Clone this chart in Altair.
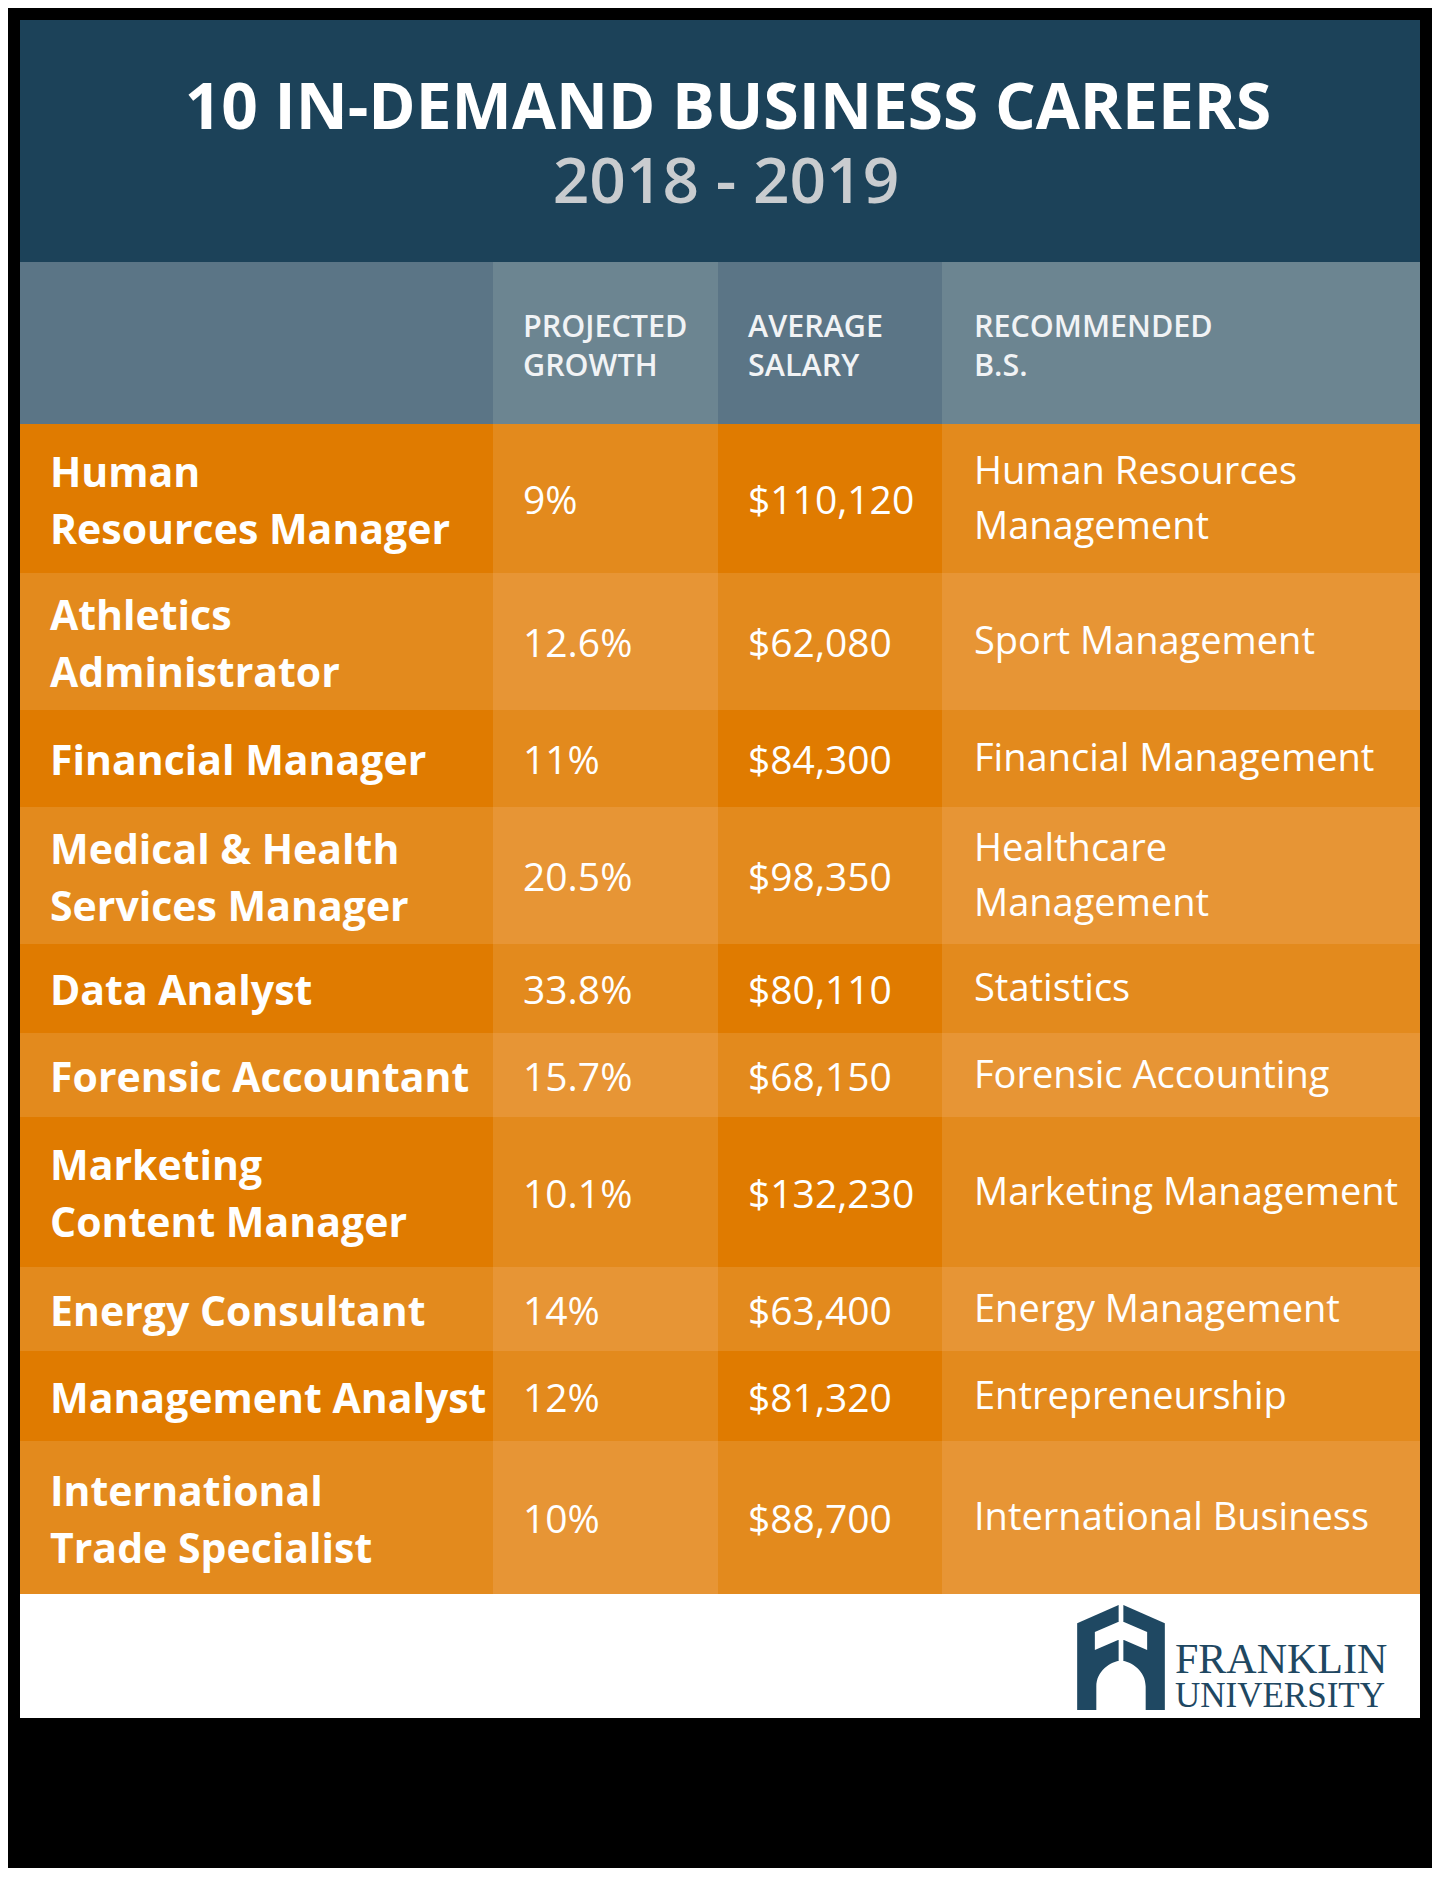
import altair as alt
import pandas as pd

# ---------------- data ----------------
title = "10 IN-DEMAND BUSINESS CAREERS"
subtitle = "2018 - 2019"
col_headers = ["", "PROJECTED\nGROWTH", "AVERAGE\nSALARY", "RECOMMENDED\nB.S."]
careers = [
    "Human\nResources Manager",
    "Athletics\nAdministrator",
    "Financial Manager",
    "Medical & Health\nServices Manager",
    "Data Analyst",
    "Forensic Accountant",
    "Marketing\nContent Manager",
    "Energy Consultant",
    "Management Analyst",
    "International\nTrade Specialist",
]
growth = ["9%", "12.6%", "11%", "20.5%", "33.8%", "15.7%", "10.1%", "14%", "12%", "10%"]
salary = ["$110,120", "$62,080", "$84,300", "$98,350", "$80,110",
          "$68,150", "$132,230", "$63,400", "$81,320", "$88,700"]
degree = [
    "Human Resources\nManagement",
    "Sport Management",
    "Financial Management",
    "Healthcare\nManagement",
    "Statistics",
    "Forensic Accounting",
    "Marketing Management",
    "Energy Management",
    "Entrepreneurship",
    "International Business",
]
brand = ["FRANKLIN", "UNIVERSITY"]

# ---------------- layout (chart pixel units) ----------------
W, H = 1400, 1698
HEADER_BOTTOM = 242
ROW_EDGES = [404, 553, 690, 787, 924, 1013, 1097, 1247, 1331, 1421, 1574]
COL_EDGES = [0, 473, 698, 922, 1400]
TEXT_X = [30, 503, 728, 954]

NAVY = "#1c4259"
HEAD_COLS = ["#5b7586", "#6c8591", "#5b7586", "#6c8591"]
ORANGES = ["#e07b00", "#e38a1d", "#e79535"]
LOGO = "#1f4862"

# background blocks
blocks = [dict(x=0, x2=W, y=0, y2=HEADER_BOTTOM, color=NAVY),
          dict(x=0, x2=W, y=ROW_EDGES[-1], y2=H, color="#ffffff")]
for j in range(4):
    blocks.append(dict(x=COL_EDGES[j], x2=COL_EDGES[j + 1], y=HEADER_BOTTOM,
                       y2=ROW_EDGES[0], color=HEAD_COLS[j]))
for i in range(len(careers)):
    for j in range(4):
        blocks.append(dict(x=COL_EDGES[j], x2=COL_EDGES[j + 1], y=ROW_EDGES[i],
                           y2=ROW_EDGES[i + 1], color=ORANGES[(i % 2) + (j % 2)]))
blocks = pd.DataFrame(blocks)


def split_lines(text, center, spacing, cap, x, dy=0.0):
    parts = text.split("\n")
    n = len(parts)
    return [dict(text=p, x=x,
                 y=center - (n - 1) / 2 * spacing + k * spacing + cap / 2 + dy)
            for k, p in enumerate(parts)]


career_rows, value_rows, degree_rows = [], [], []
for i in range(len(careers)):
    c = (ROW_EDGES[i] + ROW_EDGES[i + 1]) / 2
    career_rows += split_lines(careers[i], c, 57, 29, TEXT_X[0], 2)
    value_rows += split_lines(growth[i], c, 55, 27.8, TEXT_X[1], 2)
    value_rows += split_lines(salary[i], c, 55, 27.8, TEXT_X[2], 2)
    degree_rows += split_lines(degree[i], c, 55, 27, TEXT_X[3], -1)

head_rows = []
for j in range(1, 4):
    for k, p in enumerate(col_headers[j].split("\n")):
        head_rows.append(dict(text=p, x=TEXT_X[j], y=317 + 39 * k))

title_df = pd.DataFrame([dict(text=title, x=708, y=109)])
sub_df = pd.DataFrame([dict(text=subtitle, x=706, y=183)])
brand_df = pd.DataFrame([dict(text=brand[0], x=1155, y=1653, size=42),
                         dict(text=brand[1], x=1155, y=1687, size=35)])
logo_df = pd.DataFrame([dict(x=1101, y=1637.5)])

X = alt.X("x:Q", scale=alt.Scale(domain=[0, W], nice=False, zero=False), axis=None)
Y = alt.Y("y:Q", scale=alt.Scale(domain=[0, H], nice=False, zero=False, reverse=True), axis=None)

rects = alt.Chart(blocks).mark_rect(strokeWidth=0).encode(
    x=X, x2="x2:Q", y=Y, y2="y2:Q", color=alt.Color("color:N", scale=None))


def text_layer(df, font, size, weight, color, align="left"):
    return alt.Chart(pd.DataFrame(df)).mark_text(
        font=font, fontSize=size, fontWeight=weight, color=color,
        align=align, baseline="alphabetic").encode(x=X, y=Y, text="text:N")


title_l = text_layer(title_df, "Open Sans", 64, "bold", "#ffffff", "center")
sub_l = text_layer(sub_df, "Open Sans", 64, 600, "#c9cccf", "center")
head_l = text_layer(head_rows, "Open Sans", 30.5, 600, "#f1f3f5")
career_l = text_layer(career_rows, "Open Sans", 41, "bold", "#ffffff")
value_l = text_layer(value_rows, "Open Sans", 39, "normal", "#ffffff")
degree_l = text_layer(degree_rows, "Open Sans", 38, "normal", "#ffffff")
brand_l = alt.Chart(brand_df).mark_text(
    font="Liberation Serif", color=LOGO, align="left", baseline="alphabetic"
).encode(x=X, y=Y, text="text:N", size=alt.Size("size:Q", scale=None))

LOGO_DARK = "M -0.835 1 L -0.835 -0.651 L -0.045 -1 L 0.045 -1 L 0.835 -0.651 L 0.835 1 Z"
LOGO_WHITE = ("M -0.045 -1.06 L 0.045 -1.06 L 0.045 0.1 L -0.045 0.1 Z "
              "M -0.498 -0.486 L -0.045 -0.683 L -0.045 -0.34 L -0.498 -0.143 Z "
              "M 0.498 -0.486 L 0.045 -0.683 L 0.045 -0.34 L 0.498 -0.143 Z "
              "M -0.47 1.02 L -0.47 0.55 C -0.47 0.25 -0.2 0.08 0 0.05 "
              "C 0.2 0.08 0.47 0.25 0.47 0.55 L 0.47 1.02 Z")
logo_dark = alt.Chart(logo_df).mark_point(
    shape=LOGO_DARK, filled=True, size=11025, opacity=1, strokeWidth=0, color=LOGO
).encode(x=X, y=Y)
logo_white = alt.Chart(logo_df).mark_point(
    shape=LOGO_WHITE, filled=True, size=11025, opacity=1, strokeWidth=0, color="#ffffff"
).encode(x=X, y=Y)

chart = alt.layer(
    rects, title_l, sub_l, head_l, career_l, value_l, degree_l,
    logo_dark, logo_white, brand_l
).properties(
    width=W, height=H,
    padding={"left": 12, "top": 12, "right": 12, "bottom": 150},
    autosize=alt.AutoSizeParams(type="none"),
    background="#000000",
).configure_view(stroke=None)

chart.save("out.html", embed_options={"renderer": "svg", "actions": False})
